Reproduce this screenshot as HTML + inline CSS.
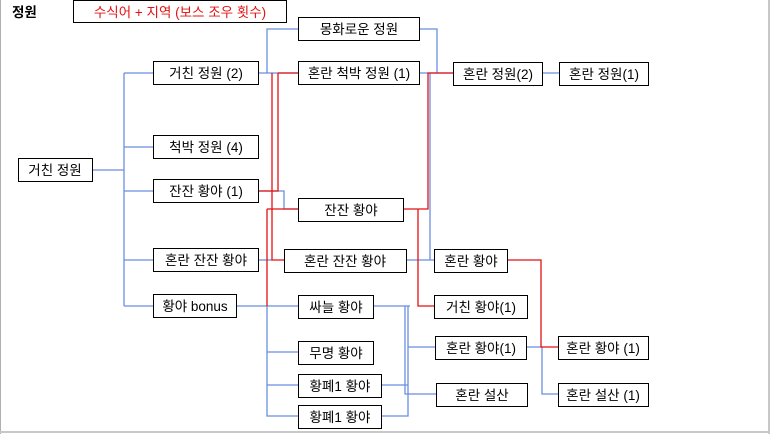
<!DOCTYPE html>
<html><head><meta charset="utf-8"><style>
html,body{margin:0;padding:0;background:#fff}
svg{display:block}
text{font-family:"Liberation Sans","Noto Sans CJK KR",sans-serif;font-size:13.5px}
</style></head><body>
<svg width="770" height="434" viewBox="0 0 770 434" xmlns="http://www.w3.org/2000/svg">
<rect x="0" y="0" width="770" height="434" fill="#fff"/>
<line x1="0.5" y1="0" x2="0.5" y2="434" stroke="#b0b0b0"/>
<line x1="769" y1="0" x2="769" y2="434" stroke="#c8c8c8" stroke-width="2"/>
<line x1="0" y1="432" x2="770" y2="432" stroke="#c8c8c8" stroke-width="2"/>
<g fill="none" stroke="#6a8ee0" stroke-width="1.3">
<polyline points="93,170 124,170"/>
<polyline points="124,73 124,306"/>
<polyline points="124,73 153,73"/><polyline points="124,147 153,147"/><polyline points="124,191 153,191"/><polyline points="124,260 153,260"/><polyline points="124,306 153,306"/>
<polyline points="258,73 298,73"/>
<polyline points="267,73 267,29 298,29"/>
<polyline points="258,191 284,191 284,209 298,209"/>
<polyline points="258,260 272,260"/>
<polyline points="236,306 298,306"/>
<polyline points="267,306 267,416 298,416"/><polyline points="267,352 298,352"/><polyline points="267,385 298,385"/>
<polyline points="373,306 410,306"/>
<polyline points="405,306 405,394 436,394"/>
<polyline points="408,306 408,416 381,416"/>
<polyline points="381,385 408,385"/>
<polyline points="408,347 435,347"/>
<polyline points="419,29 437,29 437,73"/>
<polyline points="419,73 453,73"/>
<polyline points="430,73 430,260"/>
<polyline points="406,260 434,260"/>
<polyline points="542,73 559,73"/>
<polyline points="526,347 542,347 542,394 558,394"/>
</g>
<g fill="none" stroke="#e41010" stroke-width="1.3">
<polyline points="278,73 298,73"/>
<polyline points="258,191 278,191 278,73"/>
<polyline points="272,73 272,260 284,260"/>
<polyline points="267,209 298,209"/>
<polyline points="267,209 267,306"/>
<polyline points="403,209 428,209 428,73 453,73"/>
<polyline points="418,209 418,306 434,306"/>
<polyline points="507,260 541,260 541,347 558,347"/>
</g>
<g stroke="#000" stroke-width="1" fill="#fff">
<rect x="73.5" y="0.5" width="213" height="22"/>
<rect x="18.5" y="158.5" width="74" height="23"/>
<rect x="153.5" y="61.5" width="105" height="23"/>
<rect x="153.5" y="135.5" width="105" height="23"/>
<rect x="153.5" y="179.5" width="105" height="23"/>
<rect x="153.5" y="248.5" width="105" height="23"/>
<rect x="153.5" y="294.5" width="83" height="23"/>
<rect x="298.5" y="17.5" width="121" height="23"/>
<rect x="298.5" y="61.5" width="121" height="23"/>
<rect x="298.5" y="198.5" width="105" height="23"/>
<rect x="284.5" y="249.5" width="122" height="23"/>
<rect x="298.5" y="295.5" width="75" height="23"/>
<rect x="298.5" y="341.5" width="75" height="23"/>
<rect x="298.5" y="374.5" width="83" height="23"/>
<rect x="298.5" y="405.5" width="83" height="23"/>
<rect x="453.5" y="62.5" width="89" height="23"/>
<rect x="559.5" y="62.5" width="89" height="23"/>
<rect x="434.5" y="249.5" width="73" height="23"/>
<rect x="434.5" y="295.5" width="93" height="23"/>
<rect x="435.5" y="336.5" width="91" height="23"/>
<rect x="436.5" y="383.5" width="91" height="23"/>
<rect x="558.5" y="336.5" width="90" height="23"/>
<rect x="558.5" y="383.5" width="90" height="23"/>
</g>
<text x="12" y="17" font-weight="bold">정원</text>
<g text-anchor="middle">
<text x="180" y="17" fill="#e41010">수식어 + 지역 (보스 조우 횟수)</text>
<text x="55" y="175">거친 정원</text>
<text x="206" y="78">거친 정원 (2)</text>
<text x="206" y="152">척박 정원 (4)</text>
<text x="206" y="196">잔잔 황야 (1)</text>
<text x="206" y="265">혼란 잔잔 황야</text>
<text x="195" y="311">황야 bonus</text>
<text x="359" y="34">몽화로운 정원</text>
<text x="359" y="78">혼란 척박 정원 (1)</text>
<text x="351" y="215">잔잔 황야</text>
<text x="345" y="266">혼란 잔잔 황야</text>
<text x="336" y="312">싸늘 황야</text>
<text x="336" y="358">무명 황야</text>
<text x="340" y="391">황폐1 황야</text>
<text x="340" y="422">황폐1 황야</text>
<text x="498" y="79">혼란 정원(2)</text>
<text x="604" y="79">혼란 정원(1)</text>
<text x="471" y="266">혼란 황야</text>
<text x="481" y="312">거친 황야(1)</text>
<text x="481" y="353">혼란 황야(1)</text>
<text x="482" y="400">혼란 설산</text>
<text x="603" y="353">혼란 황야 (1)</text>
<text x="603" y="400">혼란 설산 (1)</text>
</g>
</svg>
</body></html>
